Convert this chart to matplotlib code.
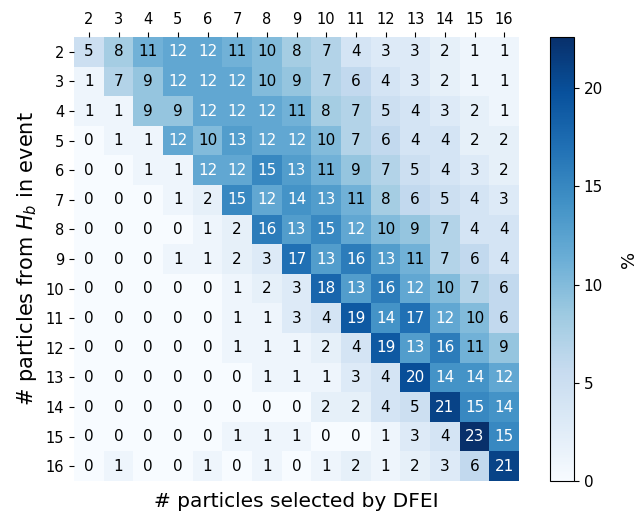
import numpy as np
import matplotlib
matplotlib.use("Agg")
import matplotlib.pyplot as plt
from matplotlib.colors import Normalize

# Data: % of events, rows = true # particles from H_b, cols = # selected by DFEI
n_true = [2, 3, 4, 5, 6, 7, 8, 9, 10, 11, 12, 13, 14, 15, 16]
n_selected = [2, 3, 4, 5, 6, 7, 8, 9, 10, 11, 12, 13, 14, 15, 16]

row_2 = [5, 8, 11, 12, 12, 11, 10, 8, 7, 4, 3, 3, 2, 1, 1]
row_3 = [1, 7, 9, 12, 12, 12, 10, 9, 7, 6, 4, 3, 2, 1, 1]
row_4 = [1, 1, 9, 9, 12, 12, 12, 11, 8, 7, 5, 4, 3, 2, 1]
row_5 = [0, 1, 1, 12, 10, 13, 12, 12, 10, 7, 6, 4, 4, 2, 2]
row_6 = [0, 0, 1, 1, 12, 12, 15, 13, 11, 9, 7, 5, 4, 3, 2]
row_7 = [0, 0, 0, 1, 2, 15, 12, 14, 13, 11, 8, 6, 5, 4, 3]
row_8 = [0, 0, 0, 0, 1, 2, 16, 13, 15, 12, 10, 9, 7, 4, 4]
row_9 = [0, 0, 0, 1, 1, 2, 3, 17, 13, 16, 13, 11, 7, 6, 4]
row_10 = [0, 0, 0, 0, 0, 1, 2, 3, 18, 13, 16, 12, 10, 7, 6]
row_11 = [0, 0, 0, 0, 0, 1, 1, 3, 4, 19, 14, 17, 12, 10, 6]
row_12 = [0, 0, 0, 0, 0, 1, 1, 1, 2, 4, 19, 13, 16, 11, 9]
row_13 = [0, 0, 0, 0, 0, 0, 1, 1, 1, 3, 4, 20, 14, 14, 12]
row_14 = [0, 0, 0, 0, 0, 0, 0, 0, 2, 2, 4, 5, 21, 15, 14]
row_15 = [0, 0, 0, 0, 0, 1, 1, 1, 0, 0, 1, 3, 4, 23, 15]
row_16 = [0, 1, 0, 0, 1, 0, 1, 0, 1, 2, 1, 2, 3, 6, 21]

mat = np.array([row_2, row_3, row_4, row_5, row_6, row_7, row_8, row_9,
                row_10, row_11, row_12, row_13, row_14, row_15, row_16])

W, H = 644, 516
fig = plt.figure(figsize=(W / 100, H / 100), dpi=100)
ax = fig.add_axes([74 / W, 1 - 481 / H, 445 / W, 444 / H])
cax = fig.add_axes([550 / W, 1 - 481 / H, 24 / W, 444 / H])

cmap = plt.get_cmap("Blues")
norm = Normalize(vmin=0, vmax=22.6)
mesh = ax.pcolormesh(mat, cmap=cmap, norm=norm)
ax.set_xlim(0, len(n_selected))
ax.set_ylim(len(n_true), 0)


def luminance(c):
    rgb = np.array(c[:3])
    rgb = np.where(rgb <= .03928, rgb / 12.92, ((rgb + .055) / 1.055) ** 2.4)
    return rgb.dot([.2126, .7152, .0722])


# annotate cells, dark text on light cells
for i in range(mat.shape[0]):
    for j in range(mat.shape[1]):
        col = cmap(norm(mat[i, j]))
        tc = "black" if luminance(col) > .37 else "white"
        ax.text(j + 0.5, i + 0.5, str(mat[i, j]), ha="center", va="center",
                fontsize=11, color=tc)

ax.xaxis.tick_top()
ax.set_xticks(np.arange(len(n_selected)) + 0.5)
ax.set_xticklabels(n_selected, fontsize=10.5)
ax.set_yticks(np.arange(len(n_true)) + 0.5)
ax.set_yticklabels(n_true, fontsize=10.5)
for s in ax.spines.values():
    s.set_visible(False)

ax.set_xlabel("# particles selected by DFEI", fontsize=14.5)
ax.xaxis.set_label_position("bottom")
ax.xaxis.labelpad = 8
ax.set_ylabel("# particles from $H_b$ in event", fontsize=15, labelpad=5)

cb = fig.colorbar(mesh, cax=cax)
cb.set_ticks([0, 5, 10, 15, 20])
cb.ax.tick_params(labelsize=11)
cb.set_label("%", fontsize=13, labelpad=12)

fig.savefig("out.png", dpi=100)
